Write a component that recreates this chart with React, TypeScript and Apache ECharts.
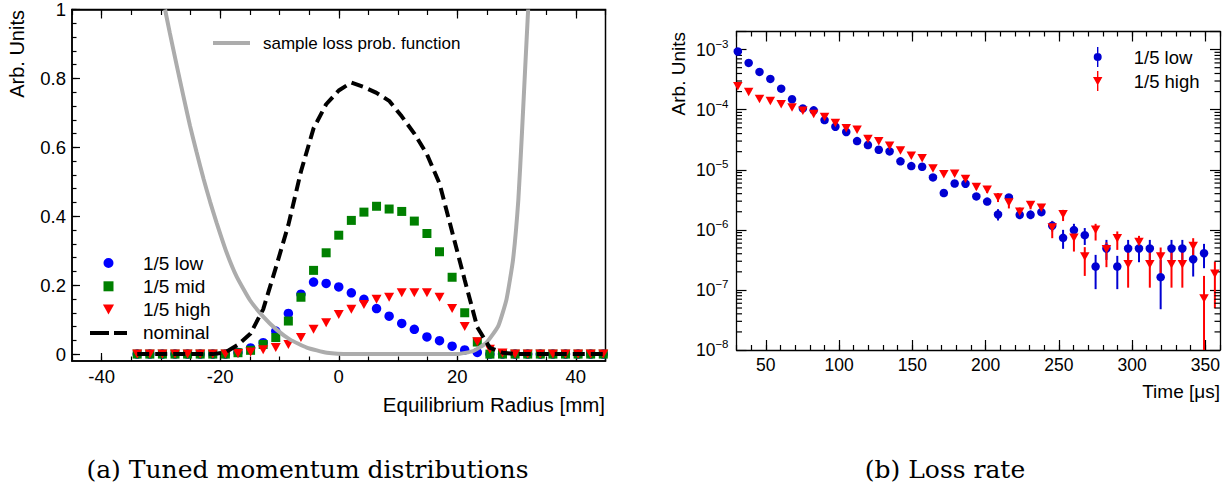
import React, { useEffect, useRef } from 'react';
import * as echarts from 'echarts';

// ---------- (a) Tuned momentum distributions ----------
const radius = [-34, -31.875, -29.75, -27.625, -25.5, -23.375, -21.25, -19.125, -17, -14.875, -12.75, -10.625, -8.5, -6.375, -4.25, -2.125, 0, 2.125, 4.25, 6.375, 8.5, 10.625, 12.75, 14.875, 17, 19.125, 21.25, 23.375, 25.5, 27.625, 29.75, 31.875, 34, 36.125, 38.25, 40.375, 42.5, 44.625];
const lowDist = [0, 0, 0, 0, 0, 0, 0, 0, 0.005, 0.018, 0.033, 0.067, 0.118, 0.174, 0.209, 0.205, 0.195, 0.178, 0.159, 0.132, 0.110, 0.089, 0.072, 0.050, 0.039, 0.023, 0.012, 0.005, 0, 0, 0, 0, 0, 0, 0, 0, 0, 0];
const midDist = [0, 0, 0, 0, 0, 0, 0, 0, 0.004, 0.011, 0.028, 0.048, 0.096, 0.165, 0.243, 0.294, 0.345, 0.388, 0.412, 0.429, 0.421, 0.414, 0.386, 0.350, 0.297, 0.223, 0.12, 0.035, 0, 0, 0, 0, 0, 0, 0, 0, 0, 0];
const highDist = [0, 0, 0, 0, 0, 0, 0, 0, 0.002, 0.006, 0.013, 0.019, 0.028, 0.048, 0.072, 0.091, 0.115, 0.130, 0.144, 0.159, 0.165, 0.178, 0.178, 0.178, 0.165, 0.132, 0.080, 0.036, 0.014, 0.003, 0, 0, 0, 0, 0, 0, 0, 0];
const nominalDist = [0, 0, 0, 0, 0, 0, 0, 0.005, 0.027, 0.06, 0.13, 0.25, 0.375, 0.53, 0.655, 0.725, 0.765, 0.788, 0.775, 0.758, 0.735, 0.69, 0.64, 0.58, 0.495, 0.355, 0.215, 0.078, 0.018, 0.004, 0, 0, 0, 0, 0, 0, 0, 0];
const lossX = [-29.3, -28.5, -27.3, -26.2, -25.1, -24.0, -22.8, -21.7, -20.6, -18.9, -17.2, -15.0, -12.7, -10.5, -8.2, -5.4, -2.0, 2.0, 8.0, 14.0, 19.9, 22.7, 24.9, 26.9, 28.3, 29.4, 30.3, 30.9, 31.45, 31.95];
const lossY = [1.0, 0.932, 0.835, 0.748, 0.663, 0.587, 0.508, 0.442, 0.381, 0.294, 0.224, 0.157, 0.108, 0.071, 0.042, 0.019, 0.004, 0.0, 0.0, 0.0, 0.0, 0.009, 0.033, 0.081, 0.159, 0.274, 0.448, 0.64, 0.83, 1.0];

const leftXMajor = [-40, -20, 0, 20, 40];
const leftYMajor = [0, 0.2, 0.4, 0.6, 0.8, 1];

// ---------- (b) Loss rate ----------
const time = [30.9, 38.3, 45.7, 53.1, 60.5, 67.9, 75.3, 82.7, 90.1, 97.5, 104.9, 112.3, 119.7, 127.1, 134.5, 141.9, 149.3, 156.7, 164.1, 171.5, 178.9, 186.3, 193.7, 201.1, 208.5, 215.9, 223.3, 230.7, 238.1, 245.5, 252.9, 260.3, 267.7, 275.1, 282.5, 289.9, 297.3, 304.7, 312.1, 319.5, 326.9, 334.3, 341.7, 349.1, 356.5];
const lowRate = [9.3e-4, 6.0e-4, 4.25e-4, 3.25e-4, 2.24e-4, 1.49e-4, 1.05e-4, 9.75e-5, 6.7e-5, 5.2e-5, 4.25e-5, 3.0e-5, 2.58e-5, 2.15e-5, 2.02e-5, 1.38e-5, 1.15e-5, 1.12e-5, 7.45e-6, 4.1e-6, 5.9e-6, 5.85e-6, 3.6e-6, 2.95e-6, 1.8e-6, 3.46e-6, 1.78e-6, 1.78e-6, 1.97e-6, 1.17e-6, 7.35e-7, 9.9e-7, 8.15e-7, 2.45e-7, 4.9e-7, 2.45e-7, 4.9e-7, 4.9e-7, 4.9e-7, 1.63e-7, 4.9e-7, 4.9e-7, 3.24e-7, 4.08e-7, null];
const lowRateLo = [null, null, null, null, null, null, null, null, null, null, null, null, null, null, null, null, null, null, null, null, 5.3e-6, 5.3e-6, 3.2e-6, 2.6e-6, 1.43e-6, 3.1e-6, 1.5e-6, 1.5e-6, 1.7e-6, 9.4e-7, 4.83e-7, 7.55e-7, 5.6e-7, 1.03e-7, 3.16e-7, 1.03e-7, 3.16e-7, 2.89e-7, 3.16e-7, 4.77e-8, 3.16e-7, 3.16e-7, 1.67e-7, 2.3e-7, null];
const lowRateHi = [null, null, null, null, null, null, null, null, null, null, null, null, null, null, null, null, null, null, null, null, 6.5e-6, 6.5e-6, 4.0e-6, 3.3e-6, 2.21e-6, 3.85e-6, 2.1e-6, 2.1e-6, 2.3e-6, 1.41e-6, 1.0e-6, 1.26e-6, 1.07e-6, 3.83e-7, 6.8e-7, 3.69e-7, 6.8e-7, 7.26e-7, 6.8e-7, 3.16e-7, 6.8e-7, 6.8e-7, 5.28e-7, 5.84e-7, null];
const highRate = [2.45e-4, 1.97e-4, 1.51e-4, 1.39e-4, 1.23e-4, 1.09e-4, 9.6e-5, 8.5e-5, 7.55e-5, 6.0e-5, 4.9e-5, 4.65e-5, 3.25e-5, 2.97e-5, 2.5e-5, 2.1e-5, 1.71e-5, 1.56e-5, 1.05e-5, 8.4e-6, 8.6e-6, 7.0e-6, 5.15e-6, 4.65e-6, 3.46e-6, 2.86e-6, 2.0e-6, 2.58e-6, 2.33e-6, 1.09e-6, 1.82e-6, 7.35e-7, 3.6e-7, 1.0e-6, 4.76e-7, 7.26e-7, 2.68e-7, 6.3e-7, 2.68e-7, 3.6e-7, 2.68e-7, 2.68e-7, 5.4e-7, 7.2e-8, 1.85e-7];
const highRateLo = [null, null, null, null, null, null, null, null, null, null, null, null, null, null, null, null, null, null, null, null, 7.9e-6, 6.4e-6, 4.7e-6, 4.1e-6, 2.9e-6, 2.27e-6, 1.7e-6, 2.2e-6, 2.0e-6, 7.26e-7, 1.4e-6, 4.35e-7, 1.71e-7, 6.64e-7, 2.39e-7, 4.64e-7, 1.09e-7, 4.35e-7, 1.09e-7, 1.67e-7, 1.09e-7, 1.09e-7, 3.69e-7, 1e-9, 4.95e-8];
const highRateHi = [null, null, null, null, null, null, null, null, null, null, null, null, null, null, null, null, null, null, null, null, 9.4e-6, 7.7e-6, 5.7e-6, 5.3e-6, 4.1e-6, 3.59e-6, 2.35e-6, 3.0e-6, 2.7e-6, 1.38e-6, 2.15e-6, 8.8e-7, 5.15e-7, 1.26e-6, 6.15e-7, 9.4e-7, 4.35e-7, 7.94e-7, 4.35e-7, 5.08e-7, 4.35e-7, 4.35e-7, 7.26e-7, 1.71e-7, 2.96e-7];

const rightXMajor = [50, 100, 150, 200, 250, 300, 350];

const SANS = '"Liberation Sans", Arial, Helvetica, sans-serif';
const SERIF = '"DejaVu Serif", "Liberation Serif", serif';

function steps(start: number, end: number, step: number): number[] {
  const out: number[] = [];
  for (let v = start; v <= end + 1e-9; v += step) out.push(Math.round(v * 1e6) / 1e6);
  return out;
}
const leftXMinor = steps(-45, 45, 5);
const leftYMinor = steps(0, 1, 0.04);
const rightXMinor = steps(30, 360, 10);
const logMinor: number[] = [];
for (let e = -8; e <= -4; e++) for (let m = 2; m <= 9; m++) logMinor.push(m * Math.pow(10, e));

const BLUE_L = '#0000ff';
const GREEN = '#008000';
const RED = '#ff0000';
const BLUE_R = '#0000d2';
const GRAY = '#acacac';

const ICON_CIRCLE = 'path://M0,5A5,5 0 1,1 10,5A5,5 0 1,1 0,5Z';
const ICON_SQUARE = 'path://M0,0H10V10H0Z';
const ICON_TRI = 'path://M0,0H10L5,9Z';
const ICON_GRAY_LINE = 'path://M0,0H37V4H0Z';
const ICON_DASH = 'path://M0,0H19V4H0Z M24,0H37V4H24Z';
const ICON_CIRCLE_BAR = 'path://M4.3,0H5.7V20H4.3Z M1,10A4,4 0 1,1 9,10A4,4 0 1,1 1,10Z';
const ICON_TRI_BAR = 'path://M4.3,0H5.7V20H4.3Z M0.3,6H9.7L5,14.5Z';

function errorBarSeries(name: string, lo: (number | null)[], hi: (number | null)[], color: string) {
  const data: number[][] = [];
  time.forEach((t, i) => {
    if (lo[i] != null && hi[i] != null) data.push([t, lo[i] as number, hi[i] as number]);
  });
  return {
    type: 'custom',
    name: name + ' err',
    xAxisIndex: 4,
    yAxisIndex: 2,
    silent: true,
    data,
    renderItem: (params: any, api: any) => {
      const x = api.value(0);
      const p1 = api.coord([x, api.value(1)]);
      const p2 = api.coord([x, api.value(2)]);
      const cs = params.coordSys;
      const yb = Math.min(p1[1], cs.y + cs.height);
      const yt = Math.max(p2[1], cs.y);
      return {
        type: 'line',
        shape: { x1: p1[0], y1: yb, x2: p1[0], y2: yt },
        style: { stroke: color, lineWidth: 2 },
      };
    },
  };
}

function buildOption() {
  const tickStyle = { color: '#000', width: 1.2 };
  const base = { type: 'value', splitLine: { show: false } };
  const line = (w: number) => ({ show: true, onZero: false, lineStyle: { color: '#000', width: w } });
  const noLine = { show: false, onZero: false };
  const ticks = (vals: number[], len: number) => ({ show: true, inside: true, length: len, customValues: vals, lineStyle: tickStyle });
  const hidden = { show: false };

  const logFormatter = (v: number) => {
    const l = Math.log10(v);
    const e = Math.round(l);
    if (Math.abs(l - e) > 0.01) return '';
    return '{b|10}{s|' + (e < 0 ? '\u2212' : '') + Math.abs(e) + '}';
  };

  return {
    animation: false,
    backgroundColor: '#ffffff',
    textStyle: { fontFamily: SANS },
    grid: [
      { left: 72, top: 9.5, width: 533.5, height: 351.5, show: true, borderColor: '#000', borderWidth: 1.5, backgroundColor: 'transparent', outerBoundsMode: 'none' },
      { left: 736.5, top: 31.5, width: 483.5, height: 318.5, show: false, outerBoundsMode: 'none' },
    ],
    xAxis: [
      { ...base, gridIndex: 0, min: -45, max: 45, position: 'bottom', axisLine: line(1.5), axisTick: ticks(leftXMajor, 8),
        axisLabel: { customValues: leftXMajor, fontSize: 18.5, color: '#000', fontFamily: SANS, margin: 6, showMinLabel: true, showMaxLabel: true } },
      { ...base, gridIndex: 0, min: -45, max: 45, position: 'bottom', axisLine: noLine, axisTick: ticks(leftXMinor, 4.5), axisLabel: hidden },
      { ...base, gridIndex: 0, min: -45, max: 45, position: 'top', axisLine: line(1.5), axisTick: ticks(leftXMajor, 9), axisLabel: hidden },
      { ...base, gridIndex: 0, min: -45, max: 45, position: 'top', axisLine: noLine, axisTick: ticks(leftXMinor, 5.5), axisLabel: hidden },
      { ...base, gridIndex: 1, min: 30, max: 360, position: 'bottom', axisLine: line(1.3), axisTick: ticks(rightXMajor, 10),
        axisLabel: { customValues: rightXMajor, fontSize: 17.5, color: '#000', fontFamily: SANS, margin: 6, showMinLabel: true, showMaxLabel: true } },
      { ...base, gridIndex: 1, min: 30, max: 360, position: 'bottom', axisLine: noLine, axisTick: ticks(rightXMinor, 5), axisLabel: hidden },
      { ...base, gridIndex: 1, min: 30, max: 360, position: 'top', axisLine: line(1.3), axisTick: ticks(rightXMajor, 10), axisLabel: hidden },
      { ...base, gridIndex: 1, min: 30, max: 360, position: 'top', axisLine: noLine, axisTick: ticks(rightXMinor, 5), axisLabel: hidden },
    ],
    yAxis: [
      { ...base, gridIndex: 0, min: -0.02, max: 1, position: 'left', axisLine: line(1.5), axisTick: ticks(leftYMajor, 8),
        axisLabel: { customValues: leftYMajor, fontSize: 18.5, color: '#000', fontFamily: SANS, margin: 6, showMinLabel: true, showMaxLabel: true } },
      { ...base, gridIndex: 0, min: -0.02, max: 1, position: 'left', axisLine: noLine, axisTick: ticks(leftYMinor, 4.5), axisLabel: hidden },
      { type: 'log', logBase: 10, gridIndex: 1, min: 1e-8, max: 2e-3, position: 'left', splitLine: { show: false },
        axisLine: line(1.3), axisTick: { show: true, inside: true, length: 10, lineStyle: tickStyle },
        axisLabel: { formatter: logFormatter, color: '#000', margin: 8, fontFamily: SANS,
          rich: {
            b: { fontSize: 17.5, fontFamily: SANS, color: '#000', lineHeight: 24 },
            s: { fontSize: 11.5, fontFamily: SANS, color: '#000', lineHeight: 12, verticalAlign: 'top' },
          } } },
      { type: 'log', logBase: 10, gridIndex: 1, min: 1e-8, max: 2e-3, position: 'right', splitLine: { show: false },
        axisLine: line(1.3), axisTick: { show: true, inside: true, length: 10, lineStyle: tickStyle }, axisLabel: hidden },
    ],
    legend: [
      { data: [{ name: 'sample loss prob. function', icon: ICON_GRAY_LINE, itemStyle: { color: GRAY } }],
        left: 213, top: 33, padding: 0, itemWidth: 37, itemHeight: 12, selectedMode: false,
        textStyle: { fontSize: 17, color: '#000', fontFamily: SANS, lineHeight: 20, padding: [0, 0, 0, 8] } },
      { data: [
          { name: '1/5 low', icon: ICON_CIRCLE, itemStyle: { color: BLUE_L, opacity: 1 } },
          { name: '1/5 mid', icon: ICON_SQUARE, itemStyle: { color: GREEN, opacity: 1 } },
          { name: '1/5 high', icon: ICON_TRI, itemStyle: { color: RED, opacity: 1 } },
          { name: 'nominal', icon: ICON_DASH, itemStyle: { color: '#000', opacity: 1 } },
        ],
        orient: 'vertical', left: 90, top: 253, padding: 0, itemWidth: 37, itemHeight: 10, itemGap: 3.3, selectedMode: false,
        textStyle: { fontSize: 19, color: '#000', fontFamily: SANS, lineHeight: 20, padding: [0, 0, 0, 11] } },
      { data: [
          { name: '1/5 low', icon: ICON_CIRCLE_BAR, itemStyle: { color: BLUE_R, opacity: 1 } },
          { name: '1/5 high', icon: ICON_TRI_BAR, itemStyle: { color: RED, opacity: 1 } },
        ],
        orient: 'vertical', left: 1093, top: 47, padding: 0, itemWidth: 10, itemHeight: 20, itemGap: 4, selectedMode: false,
        textStyle: { fontSize: 18.5, color: '#000', fontFamily: SANS, lineHeight: 20, padding: [0, 0, 0, 26] } },
    ],
    graphic: [
      { type: 'text', x: 17, y: 10, rotation: Math.PI / 2, silent: true,
        style: { text: 'Arb. Units', fontSize: 20, fontFamily: SANS, fill: '#000', align: 'right', verticalAlign: 'middle' } },
      { type: 'text', x: 605, y: 404, silent: true,
        style: { text: 'Equilibrium Radius [mm]', fontSize: 20.5, fontFamily: SANS, fill: '#000', align: 'right', verticalAlign: 'middle' } },
      { type: 'text', x: 678, y: 32, rotation: Math.PI / 2, silent: true,
        style: { text: 'Arb. Units', fontSize: 19, fontFamily: SANS, fill: '#000', align: 'right', verticalAlign: 'middle' } },
      { type: 'text', x: 1220, y: 391, silent: true,
        style: { text: 'Time [\u03bcs]', fontSize: 19, fontFamily: SANS, fill: '#000', align: 'right', verticalAlign: 'middle' } },
      { type: 'text', x: 307.5, y: 469, silent: true,
        style: { text: '(a) Tuned momentum distributions', fontSize: 25, fontFamily: SERIF, fill: '#000', align: 'center', verticalAlign: 'middle' } },
      { type: 'text', x: 945, y: 469, silent: true,
        style: { text: '(b) Loss rate', fontSize: 25, fontFamily: SERIF, fill: '#000', align: 'center', verticalAlign: 'middle' } },
    ],
    series: [
      { type: 'line', name: 'sample loss prob. function', xAxisIndex: 0, yAxisIndex: 0, data: lossX.map((x, i) => [x, lossY[i]]),
        symbol: 'none', showSymbol: false, smooth: 0.15, lineStyle: { color: GRAY, width: 4 }, itemStyle: { color: GRAY }, silent: true },
      { type: 'scatter', name: '1/5 low', xAxisIndex: 0, yAxisIndex: 0, data: radius.map((x, i) => [x, lowDist[i]]),
        symbol: 'circle', symbolSize: 9.5, itemStyle: { color: BLUE_L, opacity: 1 }, silent: true },
      { type: 'scatter', name: '1/5 mid', xAxisIndex: 0, yAxisIndex: 0, data: radius.map((x, i) => [x, midDist[i]]),
        symbol: 'rect', symbolSize: 9, itemStyle: { color: GREEN, opacity: 1 }, silent: true },
      { type: 'scatter', name: '1/5 high', xAxisIndex: 0, yAxisIndex: 0, data: radius.map((x, i) => [x, highDist[i]]),
        symbol: 'triangle', symbolRotate: 180, symbolSize: [10, 9], itemStyle: { color: RED, opacity: 1 }, silent: true },
      { type: 'line', name: 'nominal', xAxisIndex: 0, yAxisIndex: 0, data: radius.map((x, i) => [x, nominalDist[i]]),
        symbol: 'none', showSymbol: false, lineStyle: { color: '#000', width: 4, type: [12, 6] }, itemStyle: { color: '#000' }, silent: true },

      errorBarSeries('1/5 low', lowRateLo, lowRateHi, BLUE_R),
      { type: 'scatter', name: '1/5 low', xAxisIndex: 4, yAxisIndex: 2,
        data: time.map((t, i) => [t, lowRate[i]]).filter((d) => d[1] != null),
        symbol: 'circle', symbolSize: 8.5, itemStyle: { color: BLUE_R, opacity: 1 }, silent: true },
      errorBarSeries('1/5 high', highRateLo, highRateHi, RED),
      { type: 'scatter', name: '1/5 high', xAxisIndex: 4, yAxisIndex: 2,
        data: time.map((t, i) => [t, highRate[i]]).filter((d) => d[1] != null),
        symbol: 'triangle', symbolRotate: 180, symbolSize: [9.5, 8.5], itemStyle: { color: RED, opacity: 1 }, silent: true },
      { type: 'custom', name: 'log minor ticks', xAxisIndex: 4, yAxisIndex: 2, silent: true,
        data: logMinor.map((v) => [35, v]),
        renderItem: (params: any, api: any) => {
          const p = api.coord([api.value(0), api.value(1)]);
          const cs = params.coordSys;
          return {
            type: 'group',
            children: [
              { type: 'line', shape: { x1: cs.x, y1: p[1], x2: cs.x + 5.5, y2: p[1] }, style: { stroke: '#000', lineWidth: 1.2 } },
              { type: 'line', shape: { x1: cs.x + cs.width - 5.5, y1: p[1], x2: cs.x + cs.width, y2: p[1] }, style: { stroke: '#000', lineWidth: 1.2 } },
            ],
          };
        } },
    ],
  };
}

export default function App() {
  const ref = useRef<HTMLDivElement>(null);
  useEffect(() => {
    if (!ref.current) return;
    const chart = echarts.init(ref.current, undefined, { renderer: 'svg' });
    chart.setOption(buildOption() as any);
    return () => chart.dispose();
  }, []);
  return (
    <div
      ref={ref}
      style={{ position: 'absolute', left: 0, top: 0, width: 1231, height: 487, background: '#fff' }}
    />
  );
}
